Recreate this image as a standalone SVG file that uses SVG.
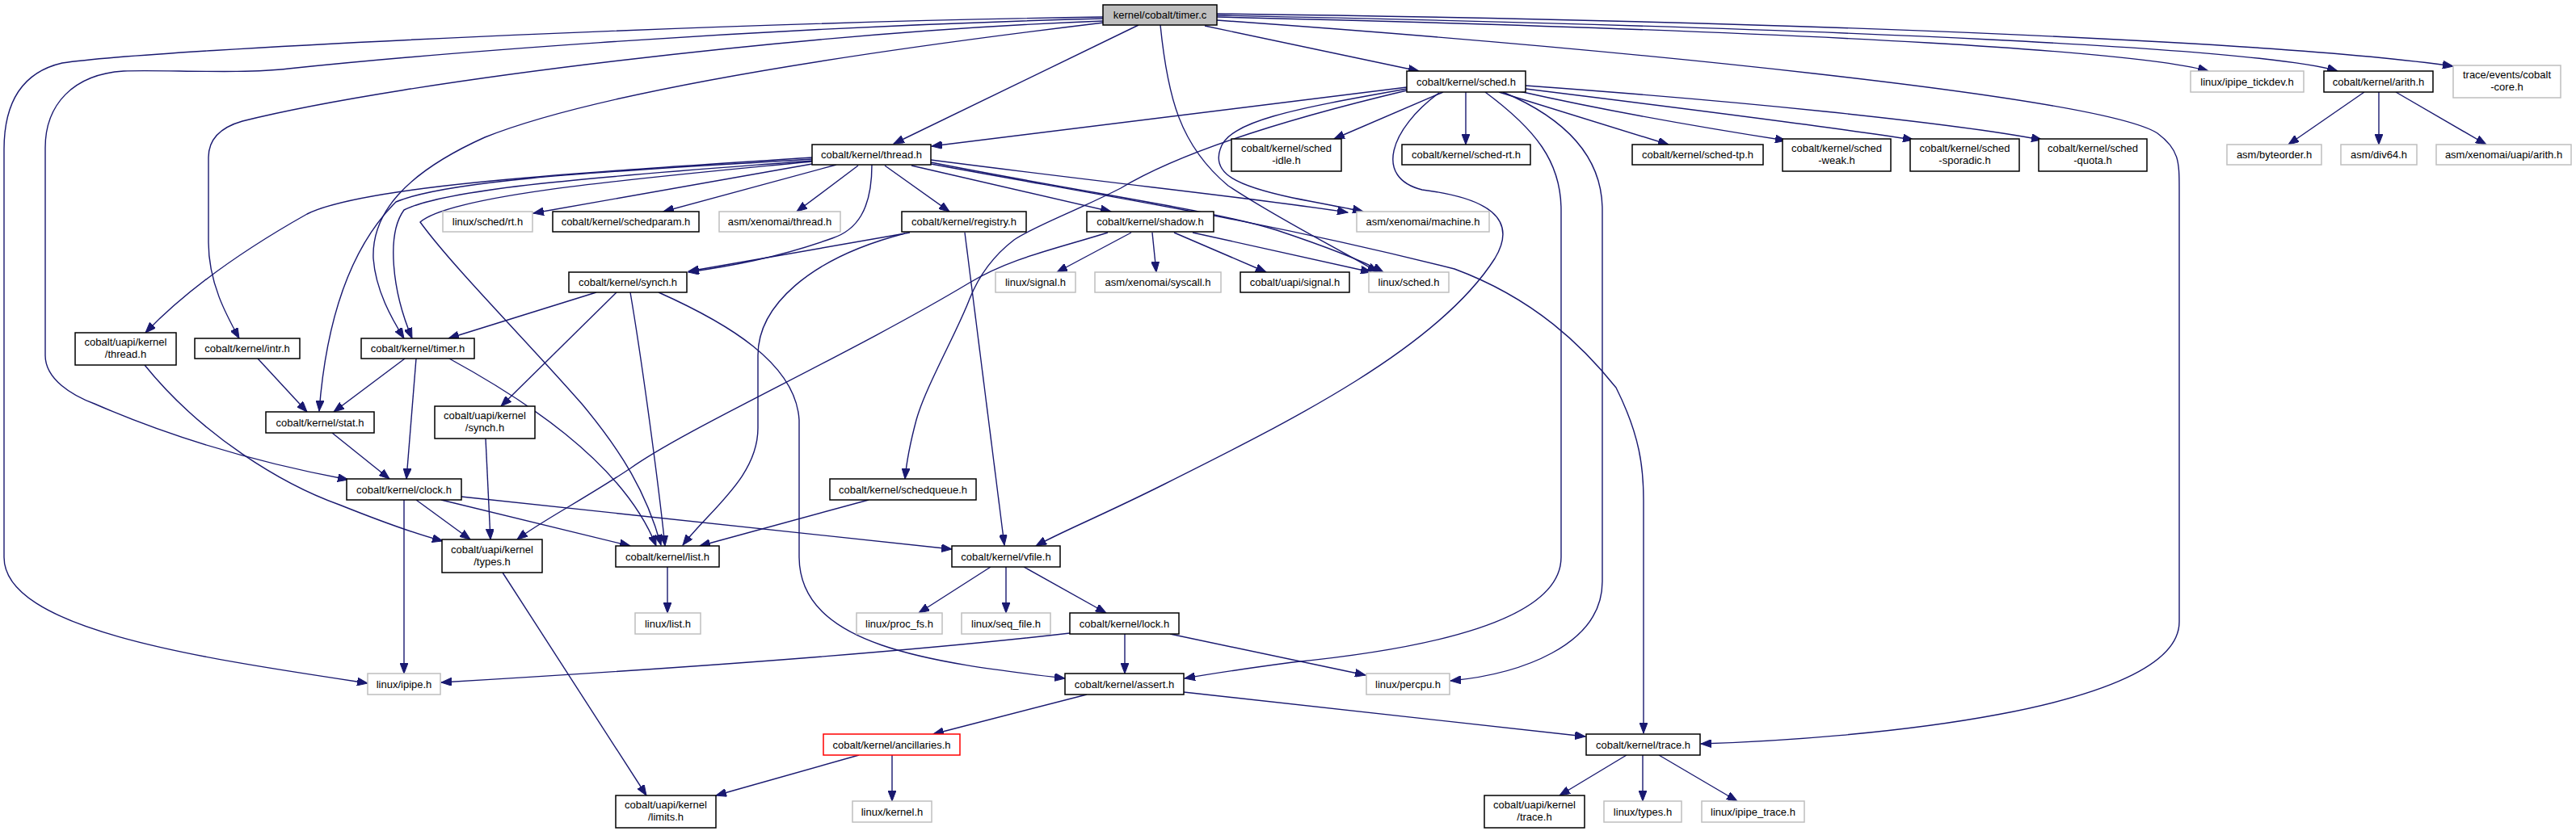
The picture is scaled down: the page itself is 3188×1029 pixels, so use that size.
<svg xmlns="http://www.w3.org/2000/svg" width="3188" height="1029" viewBox="0 0 3188 1029">
<defs>
<style>
.e path{fill:none;stroke:#191970;stroke-width:1.4;marker-end:url(#a)}
.n rect{fill:#fff;stroke:#000;stroke-width:1.5}
.g rect{fill:#fff;stroke:#bfbfbf;stroke-width:1.5}
.r rect{fill:#fff;stroke:#ff0000;stroke-width:1.5}
.root rect{fill:#bfbfbf;stroke:#000;stroke-width:1.5}
text{font-family:"Liberation Sans",Arial,Helvetica,sans-serif;font-size:13px;text-anchor:middle;fill:#000}
</style>
<marker id="a" markerUnits="userSpaceOnUse" markerWidth="14" markerHeight="10" refX="13" refY="5" orient="auto" viewBox="0 0 14 10">
<path d="M0,0 L13,5 L0,10 z" fill="#191970" stroke="#191970" stroke-width="1"/>
</marker>
</defs>
<rect width="3188" height="1029" fill="#fff"/>
<g id="edges" class="e">
<!-- timer.c -->
<path d="M1491,32 L1756,88"/>
<path d="M1409,31 L1106,178"/>
<path d="M1506,21 C2300,40 2650,65 2733,88"/>
<path d="M1506,19 C2300,35 2800,60 2893,88"/>
<path d="M1506,17 C2300,27 2850,55 3036,82"/>
<path d="M1506,25 C2000,60 2600,120 2670,165 C2697,185 2697,200 2697,235 L2697,770 C2697,880 2300,915 2105,921"/>
<path d="M1436,31 C1445,120 1460,180 1520,230 C1580,270 1660,310 1705,337"/>
<path d="M1366,28 C1100,60 750,110 600,170 C500,215 460,265 462,320 C465,360 485,395 500,419"/>
<path d="M1365,23 C900,35 500,70 357,85 C300,92 200,86 153,88 C90,92 56,130 56,183 L56,440 C56,470 90,490 117,500 C220,545 330,575 431,594"/>
<path d="M1365,26 C1000,40 500,100 300,150 C265,160 258,180 258,195 L258,300 C258,350 280,390 296,419"/>
<path d="M1365,21 C900,28 200,60 77,78 C25,90 5,130 5,185 L5,690 C5,780 250,815 455,846"/>
<!-- sched.h -->
<path d="M1741,108 L1153,181"/>
<path d="M1741,110 C1600,135 1520,150 1510,185 C1500,215 1530,230 1600,245 C1640,253 1670,258 1687,262"/>
<path d="M1741,112 C1560,155 1450,195 1387,233 C1330,262 1280,280 1255,297 C1225,320 1210,345 1200,370 C1185,410 1145,480 1134,520 C1126,550 1122,570 1120,593"/>
<path d="M1786,114 L1651,172"/>
<path d="M1781,115 C1720,160 1700,220 1760,235 C1840,245 1880,270 1850,320 C1780,430 1600,520 1440,600 C1360,640 1310,660 1282,676"/>
<path d="M1814,114 L1814,179"/>
<path d="M1855,114 L2065,179"/>
<path d="M1880,113 C2000,140 2120,160 2210,174"/>
<path d="M1888,110 C2050,130 2250,155 2368,173"/>
<path d="M1888,106 C2150,125 2400,150 2527,173"/>
<path d="M1838,114 C1900,160 1932,200 1932,260 L1932,690 C1932,760 1800,800 1600,820 C1540,828 1500,834 1466,840"/>
<path d="M1860,114 C1945,150 1983,200 1983,260 L1983,720 C1983,800 1880,835 1795,843"/>
<!-- thread.h -->
<path d="M1005,203 L660,264"/>
<path d="M1035,204 L821,262"/>
<path d="M1062,205 L986,262"/>
<path d="M1095,205 L1175,262"/>
<path d="M1128,205 L1375,262"/>
<path d="M1152,198 C1400,230 1550,245 1668,263"/>
<path d="M1152,201 C1350,240 1500,260 1580,285 C1640,305 1690,325 1712,337"/>
<path d="M1152,203 C1350,240 1550,270 1800,333 C1900,370 1960,430 2000,480 C2030,540 2034,580 2034,620 L2034,908"/>
<path d="M1079,204 C1079,260 1060,285 1030,295 C960,320 900,330 852,337"/>
<path d="M1005,195 C700,215 450,230 380,265 C300,310 230,360 180,412"/>
<path d="M1005,199 C800,215 560,230 500,260 C478,290 485,360 510,419"/>
<path d="M1005,197 C800,210 560,220 490,250 C440,300 405,380 395,509"/>
<path d="M1005,200 C800,220 560,240 520,275 C560,330 650,420 720,500 C770,560 800,610 818,675"/>
<!-- registry.h -->
<path d="M1126,288 L852,336"/>
<path d="M1120,289 C1000,320 938,380 938,440 L938,530 C938,590 880,630 845,675"/>
<path d="M1194,288 L1243,675"/>
<!-- shadow.h -->
<path d="M1400,288 L1308,337"/>
<path d="M1426,288 L1431,337"/>
<path d="M1453,288 L1567,337"/>
<path d="M1476,288 L1697,337"/>
<path d="M1371,288 C1300,310 1250,320 1200,350 C1050,440 850,530 780,580 C720,620 670,645 640,668"/>
<!-- synch.h -->
<path d="M738,362 L555,419"/>
<path d="M763,362 L620,503"/>
<path d="M780,362 C795,450 815,600 823,676"/>
<path d="M815,362 C900,400 985,450 989,520 L989,690 C990,800 1150,820 1318,840"/>
<!-- timer.h, intr.h, stat.h -->
<path d="M501,444 L413,510"/>
<path d="M515,444 L503,593"/>
<path d="M556,444 C640,490 770,570 812,676"/>
<path d="M319,444 L380,510"/>
<path d="M411,536 L482,593"/>
<!-- clock.h -->
<path d="M546,619 L780,676"/>
<path d="M571,615 L1178,680"/>
<path d="M515,619 L582,668"/>
<path d="M500,619 L500,834"/>
<!-- uapi -->
<path d="M179,452 C250,540 350,600 420,625 C470,645 510,660 548,670"/>
<path d="M601,543 L607,668"/>
<path d="M622,709 L800,985"/>
<!-- schedqueue, list, vfile -->
<path d="M1075,619 L866,676"/>
<path d="M826,702 L826,759"/>
<path d="M1226,702 L1137,759"/>
<path d="M1245,702 L1245,759"/>
<path d="M1267,702 L1369,759"/>
<!-- lock.h -->
<path d="M1324,784 C1100,810 800,830 546,845"/>
<path d="M1392,785 L1392,834"/>
<path d="M1448,785 L1690,836"/>
<!-- assert.h -->
<path d="M1345,860 L1155,909"/>
<path d="M1465,857 L1962,912"/>
<!-- ancillaries.h -->
<path d="M1063,935 L886,985"/>
<path d="M1104,935 L1104,992"/>
<!-- trace.h -->
<path d="M2013,935 L1930,985"/>
<path d="M2033,935 L2033,992"/>
<path d="M2053,935 L2150,992"/>
<!-- arith.h -->
<path d="M2926,114 L2832,179"/>
<path d="M2944,114 L2944,179"/>
<path d="M2965,114 L3077,179"/>
</g>
<g id="node-timer-c" class="root"><rect x="1365" y="6" width="141" height="25"/><text x="1435.5" y="23">kernel/cobalt/timer.c</text></g>
<g id="node-sched" class="n"><rect x="1741" y="88" width="147" height="26"/><text x="1814.5" y="105.5">cobalt/kernel/sched.h</text></g>
<g id="node-ipipe-tickdev" class="g"><rect x="2711" y="88" width="140" height="26"/><text x="2781" y="105.5">linux/ipipe_tickdev.h</text></g>
<g id="node-arith" class="n"><rect x="2876" y="88" width="135" height="26"/><text x="2943.5" y="105.5">cobalt/kernel/arith.h</text></g>
<g id="node-cobalt-core" class="g"><rect x="3036" y="81" width="133" height="40"/><text x="3102.5" y="97">trace/events/cobalt</text><text x="3102.5" y="112">-core.h</text></g>
<g id="node-thread" class="n"><rect x="1005" y="179" width="147" height="25"/><text x="1078.5" y="196">cobalt/kernel/thread.h</text></g>
<g id="node-sched-idle" class="n"><rect x="1524" y="172" width="136" height="40"/><text x="1592" y="188">cobalt/kernel/sched</text><text x="1592" y="203">-idle.h</text></g>
<g id="node-sched-rt" class="n"><rect x="1735" y="179" width="159" height="25"/><text x="1814.5" y="196">cobalt/kernel/sched-rt.h</text></g>
<g id="node-sched-tp" class="n"><rect x="2020" y="179" width="162" height="25"/><text x="2101" y="196">cobalt/kernel/sched-tp.h</text></g>
<g id="node-sched-weak" class="n"><rect x="2206" y="172" width="134" height="40"/><text x="2273" y="188">cobalt/kernel/sched</text><text x="2273" y="203">-weak.h</text></g>
<g id="node-sched-sporadic" class="n"><rect x="2364" y="172" width="135" height="40"/><text x="2431.5" y="188">cobalt/kernel/sched</text><text x="2431.5" y="203">-sporadic.h</text></g>
<g id="node-sched-quota" class="n"><rect x="2523" y="172" width="134" height="40"/><text x="2590" y="188">cobalt/kernel/sched</text><text x="2590" y="203">-quota.h</text></g>
<g id="node-byteorder" class="g"><rect x="2756" y="179" width="117" height="25"/><text x="2814.5" y="196">asm/byteorder.h</text></g>
<g id="node-div64" class="g"><rect x="2897" y="179" width="94" height="25"/><text x="2944" y="196">asm/div64.h</text></g>
<g id="node-uapi-arith" class="g"><rect x="3015" y="179" width="167" height="25"/><text x="3098.5" y="196">asm/xenomai/uapi/arith.h</text></g>
<g id="node-sched-rt-linux" class="g"><rect x="548" y="262" width="111" height="25"/><text x="603.5" y="279">linux/sched/rt.h</text></g>
<g id="node-schedparam" class="n"><rect x="684" y="262" width="181" height="25"/><text x="774.5" y="279">cobalt/kernel/schedparam.h</text></g>
<g id="node-asm-thread" class="g"><rect x="890" y="262" width="150" height="25"/><text x="965" y="279">asm/xenomai/thread.h</text></g>
<g id="node-registry" class="n"><rect x="1116" y="262" width="154" height="25"/><text x="1193" y="279">cobalt/kernel/registry.h</text></g>
<g id="node-shadow" class="n"><rect x="1345" y="262" width="157" height="25"/><text x="1423.5" y="279">cobalt/kernel/shadow.h</text></g>
<g id="node-machine" class="g"><rect x="1679" y="262" width="164" height="25"/><text x="1761" y="279">asm/xenomai/machine.h</text></g>
<g id="node-synch" class="n"><rect x="704" y="337" width="146" height="25"/><text x="777" y="354">cobalt/kernel/synch.h</text></g>
<g id="node-signal" class="g"><rect x="1232" y="337" width="99" height="25"/><text x="1281.5" y="354">linux/signal.h</text></g>
<g id="node-syscall" class="g"><rect x="1355" y="337" width="156" height="25"/><text x="1433" y="354">asm/xenomai/syscall.h</text></g>
<g id="node-uapi-signal" class="n"><rect x="1535" y="337" width="135" height="25"/><text x="1602.5" y="354">cobalt/uapi/signal.h</text></g>
<g id="node-linux-sched" class="g"><rect x="1694" y="337" width="99" height="25"/><text x="1743.5" y="354">linux/sched.h</text></g>
<g id="node-uapi-thread" class="n"><rect x="93" y="412" width="125" height="40"/><text x="155.5" y="428">cobalt/uapi/kernel</text><text x="155.5" y="443">/thread.h</text></g>
<g id="node-intr" class="n"><rect x="241" y="419" width="130" height="25"/><text x="306" y="436">cobalt/kernel/intr.h</text></g>
<g id="node-timer-h" class="n"><rect x="447" y="419" width="140" height="25"/><text x="517" y="436">cobalt/kernel/timer.h</text></g>
<g id="node-stat" class="n"><rect x="329" y="510" width="134" height="26"/><text x="396" y="527.5">cobalt/kernel/stat.h</text></g>
<g id="node-uapi-synch" class="n"><rect x="538" y="503" width="124" height="40"/><text x="600" y="519">cobalt/uapi/kernel</text><text x="600" y="534">/synch.h</text></g>
<g id="node-clock" class="n"><rect x="429" y="593" width="142" height="26"/><text x="500" y="610.5">cobalt/kernel/clock.h</text></g>
<g id="node-schedqueue" class="n"><rect x="1027" y="593" width="181" height="26"/><text x="1117.5" y="610.5">cobalt/kernel/schedqueue.h</text></g>
<g id="node-uapi-types" class="n"><rect x="547" y="668" width="124" height="41"/><text x="609" y="684.5">cobalt/uapi/kernel</text><text x="609" y="699.5">/types.h</text></g>
<g id="node-list" class="n"><rect x="762" y="676" width="128" height="26"/><text x="826" y="693.5">cobalt/kernel/list.h</text></g>
<g id="node-vfile" class="n"><rect x="1178" y="676" width="134" height="26"/><text x="1245" y="693.5">cobalt/kernel/vfile.h</text></g>
<g id="node-linux-list" class="g"><rect x="786" y="759" width="81" height="26"/><text x="826.5" y="776.5">linux/list.h</text></g>
<g id="node-proc-fs" class="g"><rect x="1060" y="759" width="106" height="26"/><text x="1113" y="776.5">linux/proc_fs.h</text></g>
<g id="node-seq-file" class="g"><rect x="1190" y="759" width="110" height="26"/><text x="1245" y="776.5">linux/seq_file.h</text></g>
<g id="node-lock" class="n"><rect x="1324" y="759" width="135" height="26"/><text x="1391.5" y="776.5">cobalt/kernel/lock.h</text></g>
<g id="node-ipipe" class="g"><rect x="455" y="834" width="90" height="26"/><text x="500" y="851.5">linux/ipipe.h</text></g>
<g id="node-assert" class="n"><rect x="1318" y="834" width="147" height="26"/><text x="1391.5" y="851.5">cobalt/kernel/assert.h</text></g>
<g id="node-percpu" class="g"><rect x="1691" y="834" width="103" height="26"/><text x="1742.5" y="851.5">linux/percpu.h</text></g>
<g id="node-ancillaries" class="r"><rect x="1019" y="909" width="169" height="26"/><text x="1103.5" y="926.5">cobalt/kernel/ancillaries.h</text></g>
<g id="node-trace" class="n"><rect x="1963" y="909" width="141" height="26"/><text x="2033.5" y="926.5">cobalt/kernel/trace.h</text></g>
<g id="node-limits" class="n"><rect x="762" y="985" width="124" height="40"/><text x="824" y="1001">cobalt/uapi/kernel</text><text x="824" y="1016">/limits.h</text></g>
<g id="node-linux-kernel" class="g"><rect x="1055" y="992" width="98" height="26"/><text x="1104" y="1009.5">linux/kernel.h</text></g>
<g id="node-uapi-trace" class="n"><rect x="1837" y="985" width="124" height="40"/><text x="1899" y="1001">cobalt/uapi/kernel</text><text x="1899" y="1016">/trace.h</text></g>
<g id="node-linux-types" class="g"><rect x="1985" y="992" width="96" height="26"/><text x="2033" y="1009.5">linux/types.h</text></g>
<g id="node-ipipe-trace" class="g"><rect x="2106" y="992" width="127" height="26"/><text x="2169.5" y="1009.5">linux/ipipe_trace.h</text></g>
</svg>
